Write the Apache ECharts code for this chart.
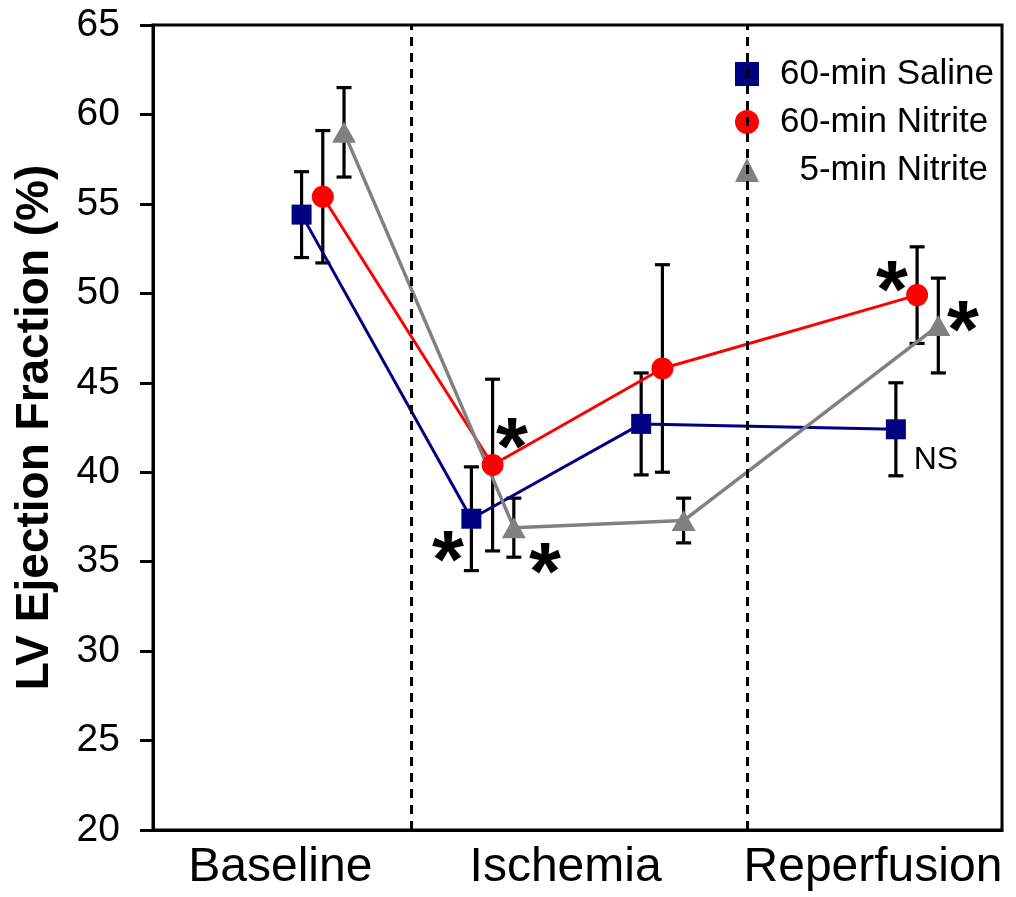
<!DOCTYPE html>
<html><head><meta charset="utf-8">
<script src="https://cdn.jsdelivr.net/npm/echarts@6/dist/echarts.min.js"></script>
<style>html,body{margin:0;padding:0;background:#fff}#c{width:1016px;height:897px}</style>
</head><body><div id="c"></div>
<script>
// ---- data ----
const timePoints = [1, 2, 3, 4.5];          // x positions of the four time points
const groupOffset = [-0.125, 0, 0.125];     // dodge per group
const phaseLabels = ['Baseline', 'Ischemia', 'Reperfusion'];
const phaseLabelPos = [0.75, 2.43, 4.24];
const phaseDividers = [1.525, 3.5];
const seriesNames = ['60-min Saline', '60-min Nitrite', '5-min Nitrite'];
const salineMean = [54.4, 37.4, 42.7, 42.4];
const salineErr = [2.4, 2.9, 2.85, 2.6];
const nitrite60Mean = [55.4, 40.4, 45.8, 49.9];
const nitrite60Err = [3.7, 4.8, 5.8, 2.7];
const nitrite5Mean = [59.0, 36.9, 37.3, 48.2];
const nitrite5Err = [2.5, 1.65, 1.25, 2.65];
const starMarks = [[1.737, 35.93], [2.114, 42.25], [2.309, 35.26], [4.352, 51.02], [4.770, 48.79]];
const nsMarks = [[4.611, 40.68]];
const yMin = 20, yMax = 65, yStep = 5;

// ---- styles ----
const colors = ['#000080', '#ff0000', '#808080'];
const symbols = ['rect', 'circle', 'triangle'];
const symbolSizes = [20, 22, [24, 21]];
const lineWidths = [3, 3, 3.5];
const FONT = 'Liberation Sans, Arial, Helvetica, sans-serif';

const means = [salineMean, nitrite60Mean, nitrite5Mean];
const errs = [salineErr, nitrite60Err, nitrite5Err];

function errRender(params, api) {
  const x = api.value(0), lo = api.value(1), hi = api.value(2);
  const pLo = api.coord([x, lo]), pHi = api.coord([x, hi]);
  const hw = 7.5;
  const style = { stroke: '#000', lineWidth: 3.2 };
  return { type: 'group', children: [
    { type: 'line', shape: { x1: pLo[0], y1: pLo[1], x2: pHi[0], y2: pHi[1] }, style },
    { type: 'line', shape: { x1: pHi[0] - hw, y1: pHi[1], x2: pHi[0] + hw, y2: pHi[1] }, style },
    { type: 'line', shape: { x1: pLo[0] - hw, y1: pLo[1], x2: pLo[0] + hw, y2: pLo[1] }, style }
  ]};
}

const series = [];
// error bars first (beneath)
seriesNames.forEach((n, g) => {
  series.push({
    type: 'custom', name: n + ' err', renderItem: errRender, silent: true, z: 1,
    encode: { x: 0, y: [1, 2] },
    data: timePoints.map((t, i) => [t + groupOffset[g], means[g][i] - errs[g][i], means[g][i] + errs[g][i]])
  });
});
seriesNames.forEach((n, g) => {
  const s = {
    type: 'line', name: n, z: 3,
    data: timePoints.map((t, i) => [t + groupOffset[g], means[g][i]]),
    symbol: symbols[g], symbolSize: symbolSizes[g], showSymbol: true,
    lineStyle: { color: colors[g], width: lineWidths[g] },
    itemStyle: { color: colors[g], opacity: 1 },
    emphasis: { disabled: true }, animation: false
  };
  series.push(s);
});
series.push({
  type: 'line', name: 'dividers', data: [], z: 2, silent: true,
  markLine: {
    silent: true, symbol: 'none', label: { show: false }, animation: false,
    lineStyle: { color: '#000', width: 3, type: [9, 7], opacity: 1 },
    emphasis: { disabled: true },
    data: phaseDividers.map(v => ({ xAxis: v }))
  }
});
series.push({
  type: 'scatter', name: 'stars', symbolSize: 0, silent: true, z: 5,
  itemStyle: { opacity: 1 },
  data: starMarks,
  label: { show: true, position: 'inside', formatter: '*', fontFamily: FONT, fontSize: 82, fontWeight: 'bold', color: '#000', opacity: 1, offset: [0, 19] }
});
series.push({
  type: 'scatter', name: 'ns', symbolSize: 0, silent: true, z: 5,
  itemStyle: { opacity: 1 },
  data: nsMarks,
  label: { show: true, position: 'inside', formatter: 'NS', fontFamily: FONT, fontSize: 32, color: '#000', opacity: 1 }
});

const chart = echarts.init(document.getElementById('c'), null, { renderer: 'canvas' });
chart.setOption({
  animation: false,
  backgroundColor: '#fff',
  grid: { left: 153, right: 14, top: 25, bottom: 67, show: true, borderColor: '#000', borderWidth: 3, backgroundColor: 'transparent' },
  legend: {
    orient: 'vertical', left: 730, top: 51, itemWidth: 24, itemHeight: 24, itemGap: 12,
    data: seriesNames.map((n, g) => ({ name: n, icon: symbols[g] })),
    formatter: n => n === '5-min Nitrite' ? '  ' + n : n,
    textStyle: { fontFamily: FONT, fontSize: 35, color: '#000', lineHeight: 36, padding: [0, 0, 0, 16] },
    selectedMode: false
  },
  xAxis: {
    type: 'value', min: 0, max: 5,
    axisLine: { show: true, lineStyle: { color: '#000', width: 3 } },
    axisTick: { show: false }, splitLine: { show: false },
    axisLabel: {
      customValues: phaseLabelPos,
      formatter: v => { const i = phaseLabelPos.findIndex(p => Math.abs(p - v) < 1e-6); return i >= 0 ? phaseLabels[i] : ''; },
      fontFamily: FONT, fontSize: 48, color: '#000', margin: 14
    }
  },
  yAxis: {
    type: 'value', min: yMin, max: yMax, interval: yStep,
    name: 'LV Ejection Fraction (%)', nameLocation: 'middle', nameGap: 95,
    nameTextStyle: { fontFamily: FONT, fontSize: 46, fontWeight: 'bold', color: '#000' },
    axisLine: { show: true, lineStyle: { color: '#000', width: 3 } },
    axisTick: { show: true, inside: false, length: 13, lineStyle: { color: '#000', width: 3 } },
    splitLine: { show: false },
    axisLabel: { fontFamily: FONT, fontSize: 39, color: '#000', margin: 33 }
  },
  series
});
</script></body></html>
